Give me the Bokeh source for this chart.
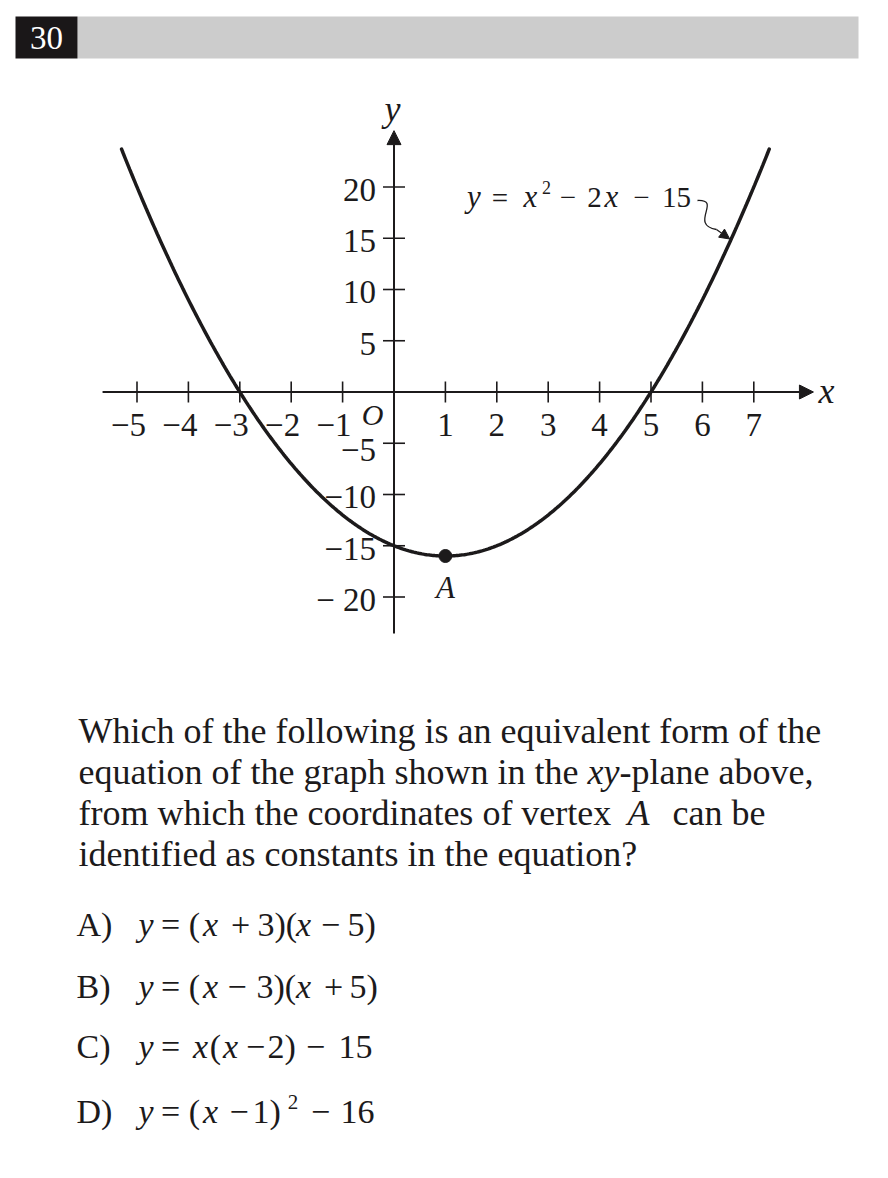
import numpy as np
from bokeh.plotting import figure
from bokeh.models import Range1d, Arrow, NormalHead, ColumnDataSource
from bokeh.core.properties import value
from bokeh.embed import file_html
from bokeh.resources import INLINE

# ---------------- data ----------------
question_number = "30"
coef_a, coef_b, coef_c = 1, -2, -15          # y = x^2 - 2x - 15
x_domain = (-5.3, 7.3)
vertex_x, vertex_y = 1, -16
vertex_label = "A"
x_ticks = [-5, -4, -3, -2, -1, 1, 2, 3, 4, 5, 6, 7]
x_tick_labels = ["−5", "−4", "−3", "−2", "−1", "1", "2", "3", "4", "5", "6", "7"]
y_ticks = [20, 15, 10, 5, -5, -10, -15, -20]
y_tick_labels = ["20", "15", "10", "5", "−5", "−10", "−15", "− 20"]
x_axis_extent = (-5.67, 8.16)
y_axis_extent = (-23.56, 25.5)
arrow_target_x = 6.57

# ---------------- geometry ----------------
W, H = 872, 1162
SX, SY = 51.4, 10.25           # px per unit
OX, OY = 393.5, 391.5          # image px of origin
FONT = value("Liberation Serif")
INK = "#1c1a1b"
BL = 0.31                      # baseline correction (fraction of font size)

p = figure(width=W, height=H, output_backend="svg", toolbar_location=None,
           x_range=Range1d((0 - OX) / SX, (W - OX) / SX),
           y_range=Range1d((OY - H) / SY, (OY - 0) / SY),
           x_axis_type=None, y_axis_type=None, min_border=0)
p.extra_x_ranges = {"px": Range1d(0, W)}
p.extra_y_ranges = {"px": Range1d(H, 0)}
p.grid.visible = False
p.outline_line_color = None
p.background_fill_color = "white"
p.border_fill_color = "white"

# ---------------- header bar ----------------
p.quad(left=[77], right=[858], top=[16], bottom=[58], fill_color="#cccccc",
       line_color=None, x_range_name="px", y_range_name="px")
p.quad(left=[15], right=[77], top=[16], bottom=[58], fill_color="#1a1718",
       line_color=None, x_range_name="px", y_range_name="px")
p.text(x=[46], y=[48], text=[question_number], text_color="white", y_offset=-BL * 33,
       text_font=FONT, text_font_size="33px", text_align="center",
       text_baseline="alphabetic", x_range_name="px", y_range_name="px")

# ---------------- axes ----------------
p.add_layout(Arrow(end=NormalHead(size=14, fill_color=INK, line_color=INK),
                   x_start=x_axis_extent[0], y_start=0, x_end=x_axis_extent[1], y_end=0,
                   line_width=2, line_color=INK))
p.add_layout(Arrow(end=NormalHead(size=14, fill_color=INK, line_color=INK),
                   x_start=0, y_start=y_axis_extent[0], x_end=0, y_end=y_axis_extent[1],
                   line_width=2, line_color=INK))
th = 10.5 / SY
p.segment(x0=x_ticks, x1=x_ticks, y0=[-th] * len(x_ticks), y1=[th] * len(x_ticks),
          line_width=1.6, line_color=INK)
tw = 11 / SX
p.segment(x0=[-tw] * len(y_ticks), x1=[tw] * len(y_ticks), y0=y_ticks, y1=y_ticks,
          line_width=1.6, line_color=INK)

TS = 33
neg = [i for i, t in enumerate(x_ticks) if t < 0]
pos = [i for i, t in enumerate(x_ticks) if t > 0]
p.text(x=[x_ticks[i] for i in neg], y=[0] * len(neg), text=[x_tick_labels[i] for i in neg],
       x_offset=9, y_offset=43 - BL * TS, text_align="right", text_baseline="alphabetic",
       text_font=FONT, text_font_size=f"{TS}px", text_color=INK)
p.text(x=[x_ticks[i] for i in pos], y=[0] * len(pos), text=[x_tick_labels[i] for i in pos],
       y_offset=43 - BL * TS, text_align="center", text_baseline="alphabetic",
       text_font=FONT, text_font_size=f"{TS}px", text_color=INK)
p.text(x=[0] * len(y_ticks), y=y_ticks, text=y_tick_labels,
       x_offset=-18, y_offset=[(17 if t == -5 else 13) - BL * TS for t in y_ticks],
       text_align="right", text_baseline="alphabetic",
       text_font=FONT, text_font_size=f"{TS}px", text_color=INK)

# ---------------- curve & vertex ----------------
xs = np.linspace(x_domain[0], x_domain[1], 400)
ys = coef_a * xs ** 2 + coef_b * xs + coef_c
p.line(xs, ys, line_width=3.5, line_color=INK, line_cap="round")
p.scatter([vertex_x], [vertex_y], size=13, color=INK)

# ---------------- pointer to curve ----------------
tip_y = coef_a * arrow_target_x ** 2 + coef_b * arrow_target_x + coef_c
p.bezier(x0=[697], y0=[200], x1=[716], y1=[229], cx0=[722], cy0=[199],
         cx1=[688], cy1=[224], line_width=1.3, line_color=INK,
         x_range_name="px", y_range_name="px")
p.add_layout(Arrow(end=NormalHead(size=10, fill_color=INK, line_color=INK),
                   x_start=716, y_start=229, x_end=OX + arrow_target_x * SX - 2,
                   y_end=OY - tip_y * SY + 1, line_width=1.3, line_color=INK,
                   x_range_name="px", y_range_name="px"))

# ---------------- text runs (image px: x, baseline y, text, size, style, align) ----------------
QS, CS, ES, EI = 36, 34, 29, 31
I, N = "italic", "normal"


def choice(letter, yb, pieces):
    out = [(76, yb, letter, CS, N, "left")]
    for px_, txt, style, align, *sup in pieces:
        if sup:
            out.append((px_, yb - 14, txt, 21, style, align))
        else:
            out.append((px_, yb, txt, CS, style, align))
    return out


C, L = "center", "left"
runs = [
    # axis names and point labels
    (392, 120, "y", 36, I, C),
    (826, 402, "x", 36, I, C),
    (372, 423, "O", 30, I, C),
    (445, 597, vertex_label, 31, I, C),
    # equation label
    (473.5, 206, "y", EI, I, C),
    (499.5, 206, "=", ES, N, C),
    (530, 206, "x", EI, I, C),
    (546, 193, "2", 18, N, C),
    (567.5, 206, "−", ES, N, C),
    (594, 206, "2", ES, N, C),
    (611, 206, "x", EI, I, C),
    (641, 206, "−", ES, N, C),
    (676, 206, "15", ES, N, C),
    # question
    (78, 742, "Which of the following is an equivalent form of the", QS, N, L),
    (78, 783, "equation of the graph shown in the", QS, N, L),
    (587, 783, "xy", QS, I, L),
    (619, 783, "-plane above,", QS, N, L),
    (78, 824, "from which the coordinates of vertex", QS, N, L),
    (627, 824, "A", QS, I, L),
    (672, 824, "can be", QS, N, L),
    (78, 865, "identified as constants in the equation?", QS, N, L),
]
runs += choice("A)", 935, [(145.5, "y", I, C), (170, "=", N, C), (194, "(", N, C),
                           (210, "x", I, C), (240, "+", N, C), (257, "3)(", N, L),
                           (303, "x", I, C), (330, "−", N, C), (347, "5)", N, L)])
runs += choice("B)", 997, [(145.5, "y", I, C), (170, "=", N, C), (194, "(", N, C),
                           (210, "x", I, C), (236.5, "−", N, C), (256, "3)(", N, L),
                           (303, "x", I, C), (333, "+", N, C), (349, "5)", N, L)])
runs += choice("C)", 1057, [(145.5, "y", I, C), (170, "=", N, C), (200, "x", I, C),
                            (215, "(", N, C), (230, "x", I, C), (255, "−", N, C),
                            (267, "2)", N, L), (315, "−", N, C), (338, "15", N, L)])
runs += choice("D)", 1122, [(145.5, "y", I, C), (170, "=", N, C), (194, "(", N, C),
                            (210, "x", I, C), (238.5, "−", N, C), (252, "1)", N, L),
                            (292.5, "2", N, C, "sup"), (320, "−", N, C), (340, "16", N, L)])

src = ColumnDataSource(dict(
    x=[r[0] for r in runs], y=[r[1] for r in runs], text=[r[2] for r in runs],
    size=[f"{r[3]}px" for r in runs], style=[r[4] for r in runs], align=[r[5] for r in runs],
    dy=[-BL * r[3] for r in runs]))
p.text(x="x", y="y", text="text", source=src, text_font=FONT, text_font_size="size",
       text_font_style="style", text_align="align", text_baseline="alphabetic",
       y_offset="dy", text_color=INK, x_range_name="px", y_range_name="px")

open("out.html", "w").write(file_html(p, INLINE))
